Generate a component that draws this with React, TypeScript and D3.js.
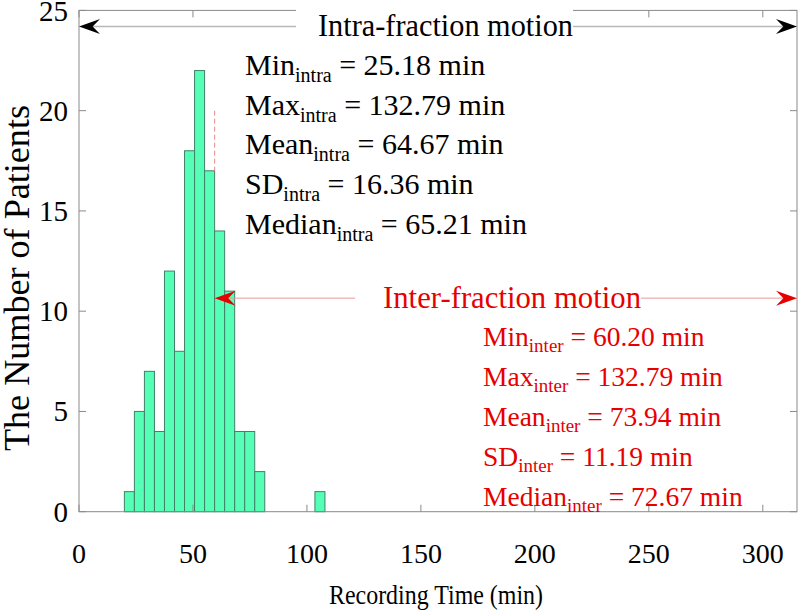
import React from "react";
import * as d3 from "d3";

// ---- data ----
const binLo = [19.9, 24.3, 28.7, 33.1, 37.5, 41.9, 46.3, 50.7, 55.1, 59.5, 63.9, 68.3, 72.7, 77.1, 103.5];
const binHi = [24.3, 28.7, 33.1, 37.5, 41.9, 46.3, 50.7, 55.1, 59.5, 63.9, 68.3, 72.7, 77.1, 81.5, 107.9];
const counts = [1, 5, 7, 4, 12, 8, 18, 22, 17, 14, 11, 4, 4, 2, 1];
const xTicks = [0, 50, 100, 150, 200, 250, 300];
const yTicks = [0, 5, 10, 15, 20, 25];
const intraNames = ["Min", "Max", "Mean", "SD", "Median"];
const intraValues = ["25.18", "132.79", "64.67", "16.36", "65.21"];
const interNames = ["Min", "Max", "Mean", "SD", "Median"];
const interValues = ["60.20", "132.79", "73.94", "11.19", "72.67"];
const intraArrow = { x0: 0, x1: 315, y: 24.2 };
const interArrow = { x0: 59.5, x1: 315, y: 10.65 };
const dashLine = { x: 59.5, y0: 17, y1: 20 };

const W = 798;
const H = 612;
const M = { left: 79, right: 797, top: 10.4, bottom: 511.7 };
const FONT = "'Liberation Serif', 'Times New Roman', serif";
const AXIS = "#8a8a8a";
const RED = "#e60000";

function head(tx: number, ty: number, dir: number, L = 21, Wd = 15) {
  const p = [
    [tx, ty],
    [tx - dir * L, ty - Wd / 2],
    [tx - dir * L * 0.65, ty],
    [tx - dir * L, ty + Wd / 2],
  ];
  return "M" + p.map((q) => q.join(",")).join("L") + "Z";
}

export default function App() {
  const x = d3.scaleLinear().domain([0, 315]).range([M.left, M.right]);
  const y = d3.scaleLinear().domain([0, 25]).range([M.bottom, M.top]);

  const ia = { x0: x(intraArrow.x0), x1: x(intraArrow.x1), y: y(intraArrow.y) };
  const ea = { x0: x(interArrow.x0), x1: x(interArrow.x1), y: y(interArrow.y) };

  return (
    <svg width={W} height={H} style={{ position: "absolute", left: 0, top: 0, background: "#fff" }} fontFamily={FONT}>
      {/* bars */}
      {counts.map((c, i) => (
        <rect
          key={i}
          x={x(binLo[i])}
          y={y(c)}
          width={x(binHi[i]) - x(binLo[i])}
          height={y(0) - y(c)}
          fill="#55ffb5"
          stroke="#3f8068"
          strokeWidth={1}
        />
      ))}

      {/* axes box */}
      <rect x={M.left} y={M.top} width={M.right - M.left} height={M.bottom - M.top} fill="none" stroke={AXIS} strokeWidth={1} />
      {xTicks.map((t) => (
        <g key={"x" + t}>
          <line x1={x(t)} x2={x(t)} y1={M.bottom} y2={M.bottom - 7} stroke={AXIS} />
          <line x1={x(t)} x2={x(t)} y1={M.top} y2={M.top + 7} stroke={AXIS} />
          <text x={x(t)} y={563} fontSize={28} textAnchor="middle" fill="#000">{t}</text>
        </g>
      ))}
      {yTicks.map((t) => (
        <g key={"y" + t}>
          <line x1={M.left} x2={M.left + 7} y1={y(t)} y2={y(t)} stroke={AXIS} />
          <line x1={M.right} x2={M.right - 7} y1={y(t)} y2={y(t)} stroke={AXIS} />
          <text x={M.left - 11} y={Math.max(y(t) + 10, 21)} fontSize={29} textAnchor="end" fill="#000">{t}</text>
        </g>
      ))}

      {/* axis labels */}
      <text x={(M.left + M.right) / 2 - 2} y={604} fontSize={28} textAnchor="middle" fill="#000" textLength={214} lengthAdjust="spacingAndGlyphs">
        Recording Time (min)
      </text>
      <text transform={`translate(29,278) rotate(-90)`} fontSize={35} textAnchor="middle" fill="#000" textLength={346} lengthAdjust="spacingAndGlyphs">
        The Number of Patients
      </text>

      {/* dashed marker */}
      <line x1={x(dashLine.x)} x2={x(dashLine.x)} y1={y(dashLine.y1)} y2={y(dashLine.y0)} stroke="#e88a8a" strokeWidth={1} strokeDasharray="5,3" />

      {/* intra arrow */}
      <line x1={ia.x0 + 10} x2={ia.x1 - 10} y1={ia.y} y2={ia.y} stroke="#b8b8b8" strokeWidth={1.5} />
      <rect x={296} y={ia.y - 18} width={277} height={34} fill="#fff" />
      <path d={head(ia.x0, ia.y, -1)} fill="#000" />
      <path d={head(ia.x1, ia.y, 1)} fill="#000" />
      <text x={445.5} y={ia.y + 10} fontSize={31} textAnchor="middle" fill="#000" textLength={255} lengthAdjust="spacingAndGlyphs">
        Intra-fraction motion
      </text>

      {/* inter arrow */}
      <line x1={ea.x0 + 10} x2={ea.x1 - 10} y1={ea.y} y2={ea.y} stroke="#e89a9a" strokeWidth={1} />
      <rect x={355} y={ea.y - 18} width={286} height={34} fill="#fff" />
      <path d={head(ea.x0, ea.y, -1)} fill={RED} />
      <path d={head(ea.x1, ea.y, 1)} fill={RED} />
      <text x={512} y={ea.y + 10} fontSize={31} textAnchor="middle" fill={RED} textLength={258} lengthAdjust="spacingAndGlyphs">
        Inter-fraction motion
      </text>

      {/* intra stats */}
      {intraNames.map((n, i) => (
        <text key={"ia" + i} x={245} y={75 + i * 39.7} fontSize={30} fill="#000">
          {n}
          <tspan fontSize={20} dy={7}>intra</tspan>
          <tspan dy={-7}>{` = ${intraValues[i]} min`}</tspan>
        </text>
      ))}

      {/* inter stats */}
      {interNames.map((n, i) => (
        <text key={"ea" + i} x={483} y={346 + i * 40} fontSize={27.5} fill={RED}>
          {n}
          <tspan fontSize={19} dy={6}>inter</tspan>
          <tspan dy={-6}>{` = ${interValues[i]} min`}</tspan>
        </text>
      ))}
    </svg>
  );
}
